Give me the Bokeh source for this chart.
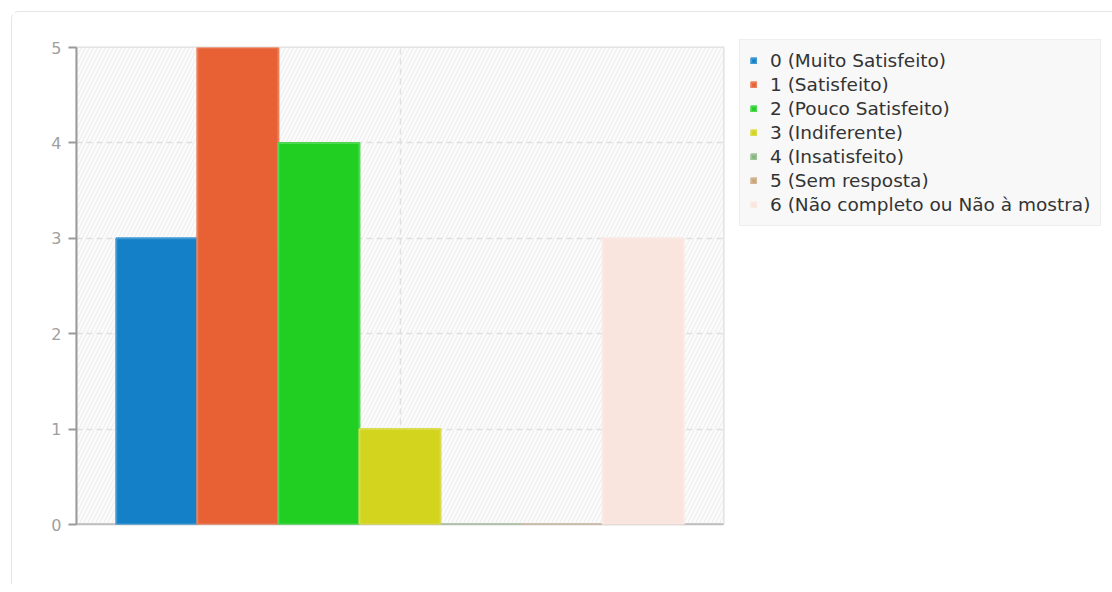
from bokeh.plotting import figure
from bokeh.models import Range1d, FixedTicker, Legend, LegendItem, ColumnDataSource, Span
from bokeh.embed import file_html
from bokeh.resources import INLINE

# ---- data ----
labels = ["0 (Muito Satisfeito)", "1 (Satisfeito)", "2 (Pouco Satisfeito)",
          "3 (Indiferente)", "4 (Insatisfeito)", "5 (Sem resposta)",
          "6 (Não completo ou Não à mostra)"]
counts = [3, 5, 4, 1, 0, 0, 3]
colors = ["#1380C8", "#E76134", "#21CF23", "#D3D41E", "#88B67E", "#C9A67B", "#F9E5DD"]
y_ticks = [0, 1, 2, 3, 4, 5]

def lighten(c, f=0.2):
    r, g, b = int(c[1:3], 16), int(c[3:5], 16), int(c[5:7], 16)
    r = int(r + (255 - r) * f); g = int(g + (255 - g) * f); b = int(b + (255 - b) * f)
    return "#%02x%02x%02x" % (r, g, b)

n = len(counts)
bw = 0.1253
xs = [0.5 + (i - (n - 1) / 2) * bw for i in range(n)]
src = ColumnDataSource(dict(x=xs, top=counts, color=colors,
                            line=[lighten(c) for c in colors], label=labels))

p = figure(frame_width=647, frame_height=477, output_backend="svg", toolbar_location=None,
           x_range=Range1d(0, 1), y_range=Range1d(0, 5),
           min_border_left=64, min_border_top=35, min_border_right=40, min_border_bottom=60)
p.styles = {"margin-left": "11px", "margin-top": "11px",
            "border-left": "1px solid #e6e6e6", "border-top": "1px solid #e6e6e6",
            "border-top-left-radius": "8px"}

p.background_fill_color = "#fbfbfb"
p.border_fill_color = "white"
p.outline_line_color = "#dddddd"
p.outline_line_width = 2

# hatched background
p.quad(left=[0], right=[1], bottom=[0], top=[5], fill_color="#fbfbfb",
       hatch_pattern="/", hatch_color="#ededed", hatch_scale=8, hatch_weight=1,
       line_color=None, level="image")

# grids
p.xgrid.ticker = FixedTicker(ticks=[0.5])
p.ygrid.ticker = FixedTicker(ticks=y_ticks)
for g in (p.xgrid, p.ygrid):
    g.grid_line_color = "#e0e0e0"
    g.grid_line_dash = "6 4"
    g.grid_line_width = 1.5

# baseline under bars
p.add_layout(Span(location=0, dimension="width", line_color="#9a9a9a", line_width=2, level="underlay"))

r = p.vbar(x="x", top="top", bottom=0, width=bw, source=src,
           fill_color="color", line_color="line", line_width=2)

# axes
p.xaxis.axis_line_color = None
p.xaxis.major_tick_line_color = None
p.xaxis.minor_tick_line_color = None
p.xaxis.major_label_text_font_size = "0px"
p.xaxis.ticker = FixedTicker(ticks=[])

p.yaxis.ticker = FixedTicker(ticks=y_ticks)
p.yaxis.axis_line_color = "#9a9a9a"
p.yaxis.axis_line_width = 2
p.yaxis.major_tick_line_color = "#9a9a9a"
p.yaxis.major_tick_line_width = 2
p.yaxis.major_tick_out = 8
p.yaxis.major_tick_in = 0
p.yaxis.minor_tick_line_color = None
p.yaxis.major_label_text_color = "#a0a0a0"
p.yaxis.major_label_text_font = "DejaVu Sans"
p.yaxis.major_label_text_font_size = "16px"
p.yaxis.major_label_standoff = 7

items = [LegendItem(label=labels[i], renderers=[r], index=i) for i in range(n)]
legend = Legend(items=items, location=(16, 298), margin=0, padding=10,
                spacing=3, label_height=20, glyph_height=7, glyph_width=7,
                label_standoff=13,
                label_text_font="DejaVu Sans", label_text_font_size="18.5px",
                label_text_color="#333333",
                background_fill_color="#f8f8f8", background_fill_alpha=1,
                border_line_color="#e3e3e3", border_line_width=1)
p.add_layout(legend, "right")

open("out.html", "w").write(file_html(p, INLINE))
